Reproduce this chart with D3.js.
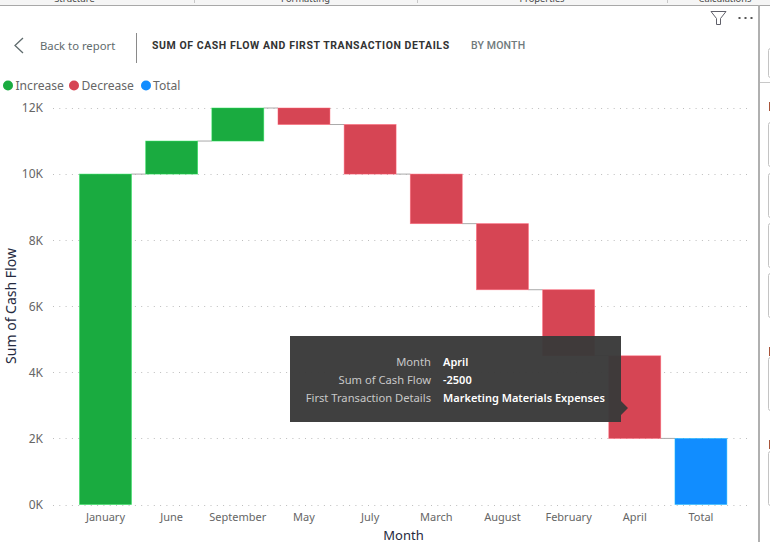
<!DOCTYPE html>
<html>
<head>
<meta charset="utf-8">
<script src="https://cdn.jsdelivr.net/npm/d3@7"></script>
<style>
html, body { margin: 0; padding: 0; background: #fff; overflow: hidden; }
svg { display: block; font-family: "Noto Sans", sans-serif; }
</style>
</head>
<body>
<div id="chart"></div>
<script>
// values
var months = ["January", "June", "September", "May", "July", "March", "August", "February", "April", "Total"];
var cashFlow = [10000, 1000, 1000, -500, -1500, -1500, -2000, -2000, -2500, 2000];
var yTicks = [0, 2000, 4000, 6000, 8000, 10000, 12000];
var legendNames = ["Increase", "Decrease", "Total"];
var legendColors = ["#1aab40", "#d64554", "#118dff"];
var tipLabels = ["Month", "Sum of Cash Flow", "First Transaction Details"];
var tipValues = ["April", "-2500", "Marketing Materials Expenses"];
var ribbonTabs = ["Structure", "Formatting", "Properties", "Calculations"];

var width = 770, height = 542;

var svg = d3.select("#chart")
    .append("svg")
    .attr("width", width)
    .attr("height", height);

// ribbon strip along the top, mostly cut off
svg.append("rect").attr("width", width).attr("height", 5).attr("fill", "#f5f5f5");
svg.append("line").attr("x1", 0).attr("x2", width).attr("y1", 5.5).attr("y2", 5.5)
    .attr("stroke", "#a8a8a8").attr("stroke-width", 1);
[194.5, 417.5, 667.5].forEach(function(x) {
    svg.append("line").attr("x1", x).attr("x2", x).attr("y1", 0).attr("y2", 3).attr("stroke", "#c8c8c8");
});
svg.selectAll(".tab")
    .data(ribbonTabs)
    .enter().append("text")
    .attr("x", function(d, i) { return [74.5, 305.5, 542, 725][i]; })
    .attr("y", 1.5)
    .attr("text-anchor", "middle")
    .attr("font-size", 9.3)
    .attr("fill", "#444")
    .text(function(d) { return d; });

// right hand pane edge
svg.append("rect").attr("x", 758).attr("y", 5).attr("width", 2).attr("height", height).attr("fill", "#b0b0b0");
svg.append("line").attr("x1", 760).attr("x2", width).attr("y1", 82.5).attr("y2", 82.5).attr("stroke", "#c8c8c8");
[[48, 77], [122, 166], [173, 217], [223, 267], [273, 317], [357, 410], [451, 505]].forEach(function(b) {
    svg.append("rect").attr("x", 768.5).attr("y", b[0] + 0.5).attr("width", 8).attr("height", b[1] - b[0])
        .attr("rx", 2).attr("fill", "none").attr("stroke", "#c4c4c4");
});
[[102, 9], [347, 9], [440, 9]].forEach(function(b) {
    svg.append("rect").attr("x", 769).attr("y", b[0]).attr("width", 1).attr("height", b[1]).attr("fill", "#a8553a");
});

// header
svg.append("path").attr("d", "M23,38 L15,45.5 L23,53").attr("fill", "none").attr("stroke", "#5f6b6d").attr("stroke-width", 1.3);
svg.append("text").attr("x", 40).attr("y", 50).attr("font-size", 11.3).attr("fill", "#5f6b6d").text("Back to report");
svg.append("line").attr("x1", 136.5).attr("x2", 136.5).attr("y1", 33).attr("y2", 63).attr("stroke", "#8a8a8a");
svg.append("text").attr("x", 152).attr("y", 49).attr("font-family", "Roboto").attr("font-weight", 700)
    .attr("font-size", 10.5).attr("letter-spacing", 0.9).attr("fill", "#333")
    .attr("textLength", 298).attr("lengthAdjust", "spacing")
    .text("SUM OF CASH FLOW AND FIRST TRANSACTION DETAILS");
svg.append("text").attr("x", 471).attr("y", 49).attr("font-family", "Roboto").attr("font-weight", 500)
    .attr("font-size", 10.5).attr("letter-spacing", 0.9).attr("fill", "#6f7a7c")
    .attr("textLength", 55).attr("lengthAdjust", "spacing")
    .text("BY MONTH");

// filter and more icons
svg.append("path").attr("d", "M711,11.5 L726,11.5 L720.5,18.5 L720.5,24.5 L716.5,24.5 L716.5,18.5 Z")
    .attr("fill", "none").attr("stroke", "#60606a").attr("stroke-width", 1);
[739, 745, 751].forEach(function(x) {
    svg.append("rect").attr("x", x - 0.5).attr("y", 17).attr("width", 2).attr("height", 2).attr("fill", "#555");
});

// legend
var legendX = [[8, 15.5], [74, 81.5], [146, 153]];
var legend = svg.selectAll(".legend")
    .data(legendNames)
    .enter().append("g")
    .attr("class", "legend");
legend.append("circle")
    .attr("cx", function(d, i) { return legendX[i][0]; })
    .attr("cy", 85.5)
    .attr("r", 5)
    .attr("fill", function(d, i) { return legendColors[i]; });
legend.append("text")
    .attr("x", function(d, i) { return legendX[i][1]; })
    .attr("y", 90)
    .attr("font-size", 12.1)
    .attr("fill", "#666")
    .text(function(d) { return d; });

var x = d3.scaleBand()
    .domain(months)
    .range([72.4, 734])
    .paddingInner(0.215)
    .paddingOuter(0.1075);

var y = d3.scaleLinear()
    .domain([0, 12000])
    .range([504.5, 108]);

// running totals for the waterfall
var running = 0;
var steps = months.map(function(m, i) {
    var isTotal = m === "Total";
    var start = isTotal ? 0 : running;
    var end = isTotal ? cashFlow[i] : running + cashFlow[i];
    running = end;
    return { month: m, start: start, end: end, kind: isTotal ? 2 : (cashFlow[i] >= 0 ? 0 : 1) };
});

// gridlines, no domain
var yAxis = d3.axisLeft(y)
    .tickValues(yTicks)
    .tickFormat(function(d) { return (d / 1000) + "K"; })
    .tickSize(0)
    .tickPadding(10);

var yG = svg.append("g").attr("transform", "translate(53,0)").call(yAxis);
yG.select(".domain").remove();
yG.selectAll("text").attr("font-size", 12).attr("fill", "#666").attr("font-family", "Noto Sans");

svg.selectAll(".grid")
    .data(yTicks)
    .enter().append("line")
    .attr("class", "grid")
    .attr("x1", 53)
    .attr("x2", 751)
    .attr("y1", function(d) { return Math.round(y(d)) + 0.5; })
    .attr("y2", function(d) { return Math.round(y(d)) + 0.5; })
    .attr("stroke", "#bdbdbd")
    .attr("stroke-dasharray", "1 5.3");

var xAxis = d3.axisBottom(x).tickSize(0).tickPadding(8);
var xG = svg.append("g").attr("transform", "translate(0,505)").call(xAxis);
xG.select(".domain").remove();
xG.selectAll("text").attr("font-size", 11).attr("fill", "#666").attr("font-family", "Noto Sans");

// connectors between bars
svg.selectAll(".connector")
    .data(steps.slice(0, -1))
    .enter().append("line")
    .attr("class", "connector")
    .attr("x1", function(d) { return x(d.month) + x.bandwidth(); })
    .attr("x2", function(d, i) { return x(months[i + 1]); })
    .attr("y1", function(d) { return y(d.end); })
    .attr("y2", function(d) { return y(d.end); })
    .attr("stroke", "#aaa")
    .attr("stroke-width", 1);

svg.selectAll(".bar")
    .data(steps)
    .enter().append("rect")
    .attr("class", "bar")
    .attr("x", function(d) { return x(d.month); })
    .attr("width", x.bandwidth())
    .attr("y", function(d) { return y(Math.max(d.start, d.end)); })
    .attr("height", function(d) { return Math.abs(y(d.start) - y(d.end)); })
    .attr("fill", function(d) { return legendColors[d.kind]; })
    .attr("stroke", function(d) { return d3.color(legendColors[d.kind]).brighter(0.8); })
    .attr("stroke-opacity", 0.6)
    .attr("stroke-width", 0.8);

// axis titles
svg.append("text")
    .attr("transform", "translate(15.5,306) rotate(-90)")
    .attr("text-anchor", "middle")
    .attr("font-size", 14)
    .attr("fill", "#252a40")
    .text("Sum of Cash Flow");
svg.append("text")
    .attr("x", 403.5)
    .attr("y", 540)
    .attr("text-anchor", "middle")
    .attr("font-size", 13)
    .attr("fill", "#252a40")
    .text("Month");

// tooltip for April
var tip = svg.append("g");
tip.append("path")
    .attr("d", "M290,336 H621 V401 L628,408 L621,415 V422 H290 Z")
    .attr("fill", "#3a3a3a")
    .attr("fill-opacity", 0.97);
tip.selectAll(".tipLabel")
    .data(tipLabels)
    .enter().append("text")
    .attr("x", 431)
    .attr("y", function(d, i) { return 366 + i * 18; })
    .attr("text-anchor", "end")
    .attr("font-size", 11.2)
    .attr("fill", "#c8c8c8")
    .text(function(d) { return d; });
tip.selectAll(".tipValue")
    .data(tipValues)
    .enter().append("text")
    .attr("x", 443)
    .attr("y", function(d, i) { return 366 + i * 18; })
    .attr("font-size", 11)
    .attr("font-weight", 600)
    .attr("fill", "#fff")
    .text(function(d) { return d; });
</script>
</body>
</html>
